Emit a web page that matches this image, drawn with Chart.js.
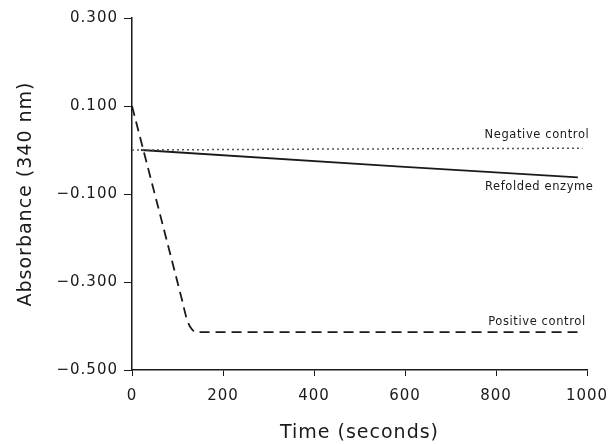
<!DOCTYPE html>
<html>
<head>
<meta charset="utf-8">
<script src="https://cdn.jsdelivr.net/npm/chart.js@4"></script>
<style>
  html, body { margin: 0; padding: 0; background: #fff; }
  #wrap { width: 610px; height: 444px; }
</style>
</head>
<body>
<div id="wrap"><canvas id="absChart"></canvas></div>
<script>
// time in seconds, absorbance at 340 nm
const negTime = [0, 400, 990];
const negValues = [0.0, 0.002, 0.004];

const refTime = [20, 590, 980];
const refValues = [0.0, -0.038, -0.062];

const posTime = [0, 110, 121, 132, 145, 990];
const posValues = [0.1, -0.341, -0.386, -0.408, -0.414, -0.414];

const xTicks = [0, 200, 400, 600, 800, 1000];
const yTicks = [-0.5, -0.3, -0.1, 0.1, 0.3];

const curveNames = ['Negative control', 'Refolded enzyme', 'Positive control'];
const labelTime = [890, 895, 890];
const labelValue = [0.034, -0.084, -0.391];

const toPoints = (xs, ys) => xs.map((x, i) => ({ x: x, y: ys[i] }));
const fmt = (v) => (v < 0 ? '\u2212' : '') + Math.abs(v).toFixed(3);

const ink = '#1a1a1a';

const curveLabels = {
    id: 'curveLabels',
    beforeDraw(chart) {
        chart.ctx.letterSpacing = '1px';
    },
    afterDatasetsDraw(chart) {
        const ctx = chart.ctx;
        const xs = chart.scales.x;
        const ys = chart.scales.y;
        ctx.save();
        ctx.letterSpacing = '0.6px';
        ctx.font = '11.5px "DejaVu Sans"';
        ctx.fillStyle = ink;
        ctx.textAlign = 'center';
        ctx.textBaseline = 'middle';
        for (let i = 0; i < curveNames.length; i++) {
            ctx.fillText(curveNames[i], xs.getPixelForValue(labelTime[i]), ys.getPixelForValue(labelValue[i]));
        }
        ctx.restore();
    }
};

new Chart(document.getElementById('absChart'), {
    type: 'line',
    data: {
        datasets: [
            {
                label: 'Negative control',
                data: toPoints(negTime, negValues),
                borderColor: '#555',
                borderWidth: 1.5,
                borderDash: [2, 3],
                pointRadius: 0
            },
            {
                label: 'Refolded enzyme',
                data: toPoints(refTime, refValues),
                borderColor: ink,
                borderWidth: 1.8,
                pointRadius: 0
            },
            {
                label: 'Positive control',
                data: toPoints(posTime, posValues),
                borderColor: ink,
                borderWidth: 1.8,
                borderDash: [10, 6],
                pointRadius: 0,
                cubicInterpolationMode: 'monotone'
            }
        ]
    },
    options: {
        responsive: true,
        maintainAspectRatio: false,
        animation: false,
        layout: { padding: { top: 18, right: 23, left: 0, bottom: 0 } },
        plugins: {
            legend: { display: false },
            tooltip: { enabled: false }
        },
        scales: {
            x: {
                type: 'linear',
                min: 0,
                max: 1000,
                afterBuildTicks: (s) => { s.ticks = xTicks.map(v => ({ value: v })); },
                afterFit: (s) => { s.height = 74; s.paddingLeft = 0; s.paddingRight = 0; },
                grid: { drawOnChartArea: false, tickLength: 6, color: ink },
                border: { color: ink, width: 1.5 },
                ticks: { color: ink, font: { family: 'DejaVu Sans', size: 15 }, padding: 11, maxRotation: 0, callback: (v) => String(v) },
                title: {
                    display: true,
                    text: 'Time (seconds)',
                    color: ink,
                    font: { family: 'DejaVu Sans', size: 19 },
                    padding: { top: 2, bottom: 0 }
                }
            },
            y: {
                min: -0.5,
                max: 0.3,
                afterBuildTicks: (s) => { s.ticks = yTicks.map(v => ({ value: v })); },
                afterFit: (s) => { s.width = 132; },
                grid: { drawOnChartArea: false, tickLength: 8, color: ink },
                border: { color: ink, width: 1.5 },
                ticks: { color: ink, font: { family: 'DejaVu Sans', size: 15 }, padding: 6, callback: (v) => fmt(v) },
                title: {
                    display: true,
                    text: 'Absorbance (340 nm)',
                    color: ink,
                    font: { family: 'DejaVu Sans', size: 19 },
                    padding: { top: 15, bottom: 4 }
                }
            }
        }
    },
    plugins: [curveLabels]
});
</script>
</body>
</html>
